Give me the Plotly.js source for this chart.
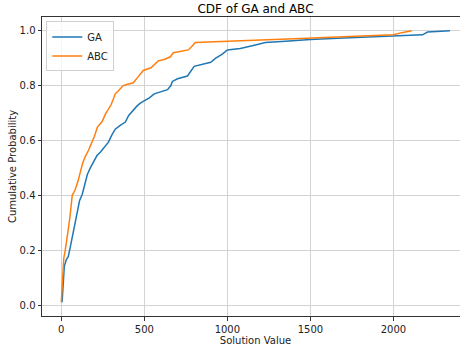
<!DOCTYPE html>
<html>
<head>
<meta charset="utf-8">
<script src="https://cdn.plot.ly/plotly-3.0.1.min.js"></script>
<style>
html,body{margin:0;padding:0;overflow:hidden;background:#fff;width:460px;height:346px;}
#chart{width:480px;height:346px;}
</style>
</head>
<body>
<div id="chart"></div>
<script>
// GA empirical CDF (sorted solution values vs cumulative probability)
const gaX = [5, 10, 18, 30, 42, 54, 64, 72, 85, 96, 110, 126, 140, 157, 175, 193, 215, 235, 260, 283, 305, 325, 355, 386, 405, 428, 455, 476, 500, 530, 560, 600, 640, 660, 669, 700, 760, 800, 850, 900, 930, 970, 1000, 1078, 1150, 1229, 1350, 1500, 1700, 2000, 2100, 2175, 2205, 2340];
const gaY = [0.01, 0.06, 0.14, 0.165, 0.176, 0.21, 0.24, 0.26, 0.30, 0.345, 0.38, 0.403, 0.44, 0.476, 0.50, 0.52, 0.545, 0.557, 0.575, 0.593, 0.62, 0.641, 0.655, 0.667, 0.69, 0.707, 0.725, 0.736, 0.745, 0.755, 0.77, 0.778, 0.785, 0.80, 0.815, 0.825, 0.835, 0.87, 0.878, 0.885, 0.90, 0.915, 0.93, 0.935, 0.945, 0.957, 0.962, 0.968, 0.973, 0.98, 0.983, 0.985, 0.995, 1.0];

// ABC empirical CDF
const abcX = [0, 3, 8, 15, 24, 35, 42, 52, 60, 66, 75, 84, 100, 114, 130, 145, 165, 187, 200, 217, 235, 247, 265, 283, 300, 313, 325, 350, 373, 400, 434, 460, 494, 540, 584, 620, 657, 675, 720, 765, 790, 807, 1400, 2000, 2050, 2110];
const abcY = [0.01, 0.05, 0.128, 0.17, 0.2, 0.24, 0.275, 0.32, 0.385, 0.40, 0.41, 0.421, 0.45, 0.483, 0.52, 0.542, 0.565, 0.597, 0.615, 0.648, 0.66, 0.67, 0.695, 0.714, 0.73, 0.75, 0.77, 0.785, 0.80, 0.805, 0.81, 0.83, 0.855, 0.865, 0.89, 0.895, 0.905, 0.92, 0.925, 0.93, 0.945, 0.957, 0.971, 0.985, 0.993, 1.0];

const xTicks = [0, 500, 1000, 1500, 2000];
const yTicks = [0.0, 0.2, 0.4, 0.6, 0.8, 1.0];

const font = "DejaVu Sans, sans-serif";

const traces = [
  {x: gaX, y: gaY, type: 'scatter', mode: 'lines', name: 'GA',
   line: {color: '#1f77b4', width: 1.5}},
  {x: abcX, y: abcY, type: 'scatter', mode: 'lines', name: 'ABC',
   line: {color: '#ff7f0e', width: 1.5}}
];

const axisCommon = {
  showline: true, linecolor: '#333', linewidth: 1, mirror: true,
  ticks: 'outside', ticklen: 3.5, tickwidth: 1, tickcolor: '#333',
  showgrid: true, gridcolor: '#d3d3d3', gridwidth: 1,
  zeroline: false,
  tickfont: {family: font, size: 10, color: '#222'}
};

const layout = {
  width: 480, height: 346,
  margin: {l: 42, r: 11, t: 17, b: 30, pad: 0},
  paper_bgcolor: '#fff', plot_bgcolor: '#fff',
  title: {text: 'CDF of GA and ABC', font: {family: font, size: 12, color: '#000'},
          x: 0.5, xref: 'paper', y: 1 - 9/346, yref: 'container', yanchor: 'middle'},
  xaxis: Object.assign({}, axisCommon, {
    range: [-116, 2455], tickvals: xTicks, ticktext: xTicks.map(String),
    title: {text: 'Solution Value', font: {family: font, size: 10, color: '#222'}, standoff: 1}
  }),
  yaxis: Object.assign({}, axisCommon, {
    range: [-0.04, 1.05], tickvals: yTicks, ticktext: yTicks.map(v => v.toFixed(1)),
    title: {text: 'Cumulative Probability', font: {family: font, size: 10, color: '#222'}, standoff: 1}
  }),
  legend: {x: 0.01, y: 0.985, xanchor: 'left', yanchor: 'top',
           bgcolor: 'rgba(255,255,255,0.8)', bordercolor: '#d0d0d0', borderwidth: 1,
           font: {family: font, size: 10, color: '#222'}, itemwidth: 30, tracegroupgap: 0},
  showlegend: true
};

Plotly.newPlot('chart', traces, layout, {staticPlot: true, displayModeBar: false});
</script>
</body>
</html>
